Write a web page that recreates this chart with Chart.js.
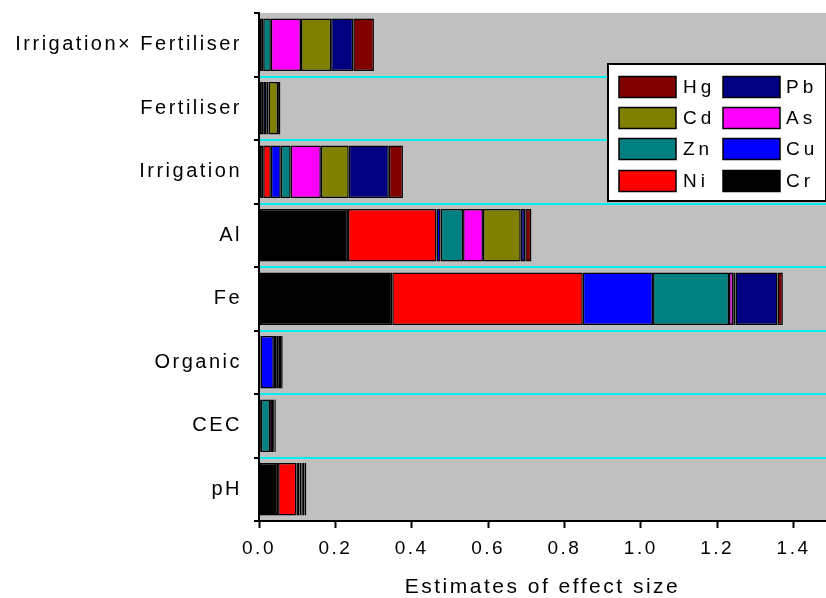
<!DOCTYPE html>
<html>
<head>
<meta charset="utf-8">
<script src="https://cdn.jsdelivr.net/npm/chart.js@4.4.1/dist/chart.umd.min.js"></script>
<style>
  html, body { margin: 0; padding: 0; background: #ffffff; }
  #wrap { width: 826px; height: 598px; }
</style>
</head>
<body>
<div id="wrap"><canvas id="c" width="826" height="598"></canvas></div>
<script>
// ---- data (top row first) ----
const categories = ['Irrigation\u00d7 Fertiliser', 'Fertiliser', 'Irrigation', 'Al', 'Fe', 'Organic', 'CEC', 'pH'];
const elements = ['Cr', 'Ni', 'Cu', 'Zn', 'As', 'Cd', 'Pb', 'Hg'];
const Cr = [0.011, 0.011, 0.011, 0.233, 0.349, 0.004, 0.005, 0.050];
const Ni = [0.000, 0.000, 0.020, 0.232, 0.499, 0.000, 0.000, 0.048];
const Cu = [0.000, 0.008, 0.026, 0.0105, 0.184, 0.035, 0.000, 0.008];
const Zn = [0.020, 0.006, 0.026, 0.059, 0.199, 0.006, 0.024, 0.005];
const As = [0.079, 0.000, 0.079, 0.052, 0.011, 0.000, 0.008, 0.002];
const Cd = [0.079, 0.025, 0.073, 0.099, 0.006, 0.007, 0.004, 0.006];
const Pb = [0.058, 0.006, 0.105, 0.012, 0.110, 0.006, 0.003, 0.005];
const Hg = [0.054, 0.000, 0.037, 0.016, 0.014, 0.004, 0.000, 0.000];
const seriesValues = [Cr, Ni, Cu, Zn, As, Cd, Pb, Hg];
const xTitle = 'Estimates of effect size';

// ---- style ----
const colors = ['#000000', '#ff0000', '#0000ff', '#008080', '#ff00ff', '#808000', '#000080', '#800000'];
const FONT = "'Liberation Sans', Arial, sans-serif";

const datasets = elements.map((el, i) => ({
  label: el,
  data: seriesValues[i],
  backgroundColor: colors[i],
  borderColor: '#000000',
  borderWidth: 1.5,
  borderSkipped: false,
  barPercentage: 0.83,
  categoryPercentage: 1.0
}));

const spacingPlugin = {
  id: 'spacing',
  beforeUpdate(chart) { chart.ctx.letterSpacing = '2.5px'; },
  beforeDraw(chart) {
    const ctx = chart.ctx;
    ctx.letterSpacing = '2.5px';
    const a = chart.chartArea;
    ctx.save();
    ctx.fillStyle = '#c0c0c0';
    ctx.fillRect(a.left, a.top, a.right - a.left, a.bottom - a.top);
    ctx.restore();
  }
};

const legendPlugin = {
  id: 'boxLegend',
  afterDraw(chart) {
    const ctx = chart.ctx;
    const box = { x: 607, y: 63, w: 219, h: 139 };
    ctx.save();
    ctx.fillStyle = '#ffffff';
    ctx.fillRect(box.x, box.y, box.w, box.h);
    ctx.strokeStyle = '#000000';
    ctx.lineWidth = 2;
    ctx.strokeRect(box.x + 1, box.y + 1, box.w - 1, box.h - 2);
    const order = chart.data.datasets.slice().reverse();
    const colX = [619, 723];
    const textX = [683, 786];
    const rowY = [87, 118, 149, 181];
    ctx.font = '19px ' + FONT;
    ctx.letterSpacing = '4px';
    ctx.textBaseline = 'middle';
    ctx.textAlign = 'left';
    order.forEach((ds, i) => {
      const r = Math.floor(i / 2), c = i % 2;
      const sx = colX[c], sy = rowY[r] - 10.5;
      ctx.fillStyle = ds.backgroundColor;
      ctx.fillRect(sx, sy, 57, 21);
      ctx.lineWidth = 1.5;
      ctx.strokeStyle = '#000000';
      ctx.strokeRect(sx, sy, 57, 21);
      ctx.fillStyle = '#000000';
      ctx.fillText(ds.label, textX[c], rowY[r] + 1);
    });
    ctx.restore();
  }
};

new Chart(document.getElementById('c'), {
  type: 'bar',
  data: { labels: categories, datasets },
  options: {
    indexAxis: 'y',
    responsive: false,
    animation: false,
    devicePixelRatio: 1,
    layout: { padding: { top: 13, right: 0, left: 0, bottom: 0 } },
    plugins: { legend: { display: false }, tooltip: { enabled: false } },
    scales: {
      x: {
        stacked: true,
        min: 0,
        max: 1.485,
        afterFit(scale) { scale.height = 77; },
        ticks: {
          stepSize: 0.2,
          includeBounds: false,
          color: '#000000',
          font: { family: FONT, size: 19 },
          padding: 9,
          callback: (v) => Number(v).toFixed(1)
        },
        grid: { drawOnChartArea: false, tickLength: 7, tickColor: '#000000', tickWidth: 2 },
        border: { color: '#000000', width: 2 },
        title: {
          display: true,
          text: xTitle,
          color: '#000000',
          font: { family: FONT, size: 21, lineHeight: 1 },
          padding: { top: 0, bottom: 0 }
        }
      },
      y: {
        stacked: true,
        afterFit(scale) { scale.width = 259; scale.paddingTop = 0; scale.paddingBottom = 0; },
        ticks: {
          color: '#000000',
          font: { family: FONT, size: 20 },
          padding: 12
        },
        grid: {
          offset: true,
          lineWidth: 2,
          color: (ctx) => (ctx.index === 0 || ctx.index === categories.length) ? 'rgba(0,0,0,0)' : '#00f0f0',
          tickColor: '#000000',
          tickLength: 5,
          tickWidth: 2
        },
        border: { color: '#000000', width: 2 }
      }
    }
  },
  plugins: [spacingPlugin, legendPlugin]
});
</script>
</body>
</html>
